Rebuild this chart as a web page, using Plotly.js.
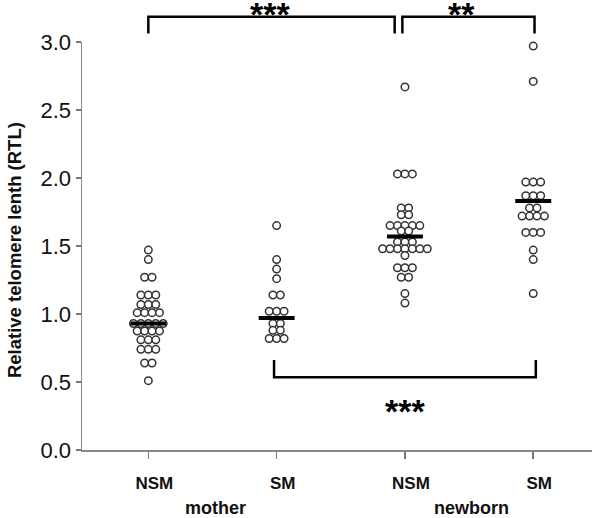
<!DOCTYPE html>
<html>
<head>
<meta charset="utf-8">
<script src="https://cdn.plot.ly/plotly-3.0.1.min.js"></script>
<style>html,body{margin:0;padding:0;background:#fff;}#chart{width:600px;height:518px;}</style>
</head>
<body>
<div id="chart"></div>
<script>
// ---- data ----
var categories = ["NSM", "SM", "NSM", "SM"];
var groupLabels = ["mother", "newborn"];
var motherNSM = [1.47, 1.40, 1.27, 1.27, 1.14, 1.14, 1.14, 1.07, 1.07, 1.07,
                 1.01, 1.01, 1.01, 1.01, 0.93, 0.93, 0.93, 0.93, 0.93,
                 0.875, 0.875, 0.875, 0.875, 0.81, 0.81, 0.81, 0.74, 0.74, 0.74,
                 0.64, 0.64, 0.51];
var motherSM = [1.65, 1.40, 1.33, 1.26, 1.14, 1.14, 1.02, 1.02, 1.02,
                0.93, 0.93, 0.88, 0.88, 0.82, 0.82, 0.82];
var newbornNSM = [2.67, 2.03, 2.03, 2.03, 1.78, 1.78, 1.73, 1.73,
                  1.65, 1.65, 1.65, 1.65, 1.65, 1.61, 1.61, 1.53, 1.53, 1.53,
                  1.48, 1.48, 1.48, 1.48, 1.48, 1.48, 1.48, 1.43,
                  1.34, 1.34, 1.34, 1.27, 1.27, 1.15, 1.08];
var newbornSM = [2.97, 2.71, 1.97, 1.97, 1.97, 1.87, 1.87, 1.87, 1.78, 1.78,
                 1.72, 1.72, 1.72, 1.72, 1.60, 1.60, 1.60, 1.47, 1.40, 1.15];
var means = [0.93, 0.97, 1.57, 1.83];
var yTicks = [0.0, 0.5, 1.0, 1.5, 2.0, 2.5, 3.0];
var yTickText = ["0.0", "0.5", "1.0", "1.5", "2.0", "2.5", "3.0"];
var sigLabels = ["***", "**", "***"];

var groups = [motherNSM, motherSM, newbornNSM, newbornSM];
var dx = 0.058; // horizontal spacing of dots in a row (category units)

function swarm(vals, center) {
  var counts = {}, seen = {};
  vals.forEach(function (v) { counts[v] = (counts[v] || 0) + 1; });
  var xs = [];
  vals.forEach(function (v) {
    var i = seen[v] || 0; seen[v] = i + 1;
    xs.push(center + (i - (counts[v] - 1) / 2) * dx);
  });
  return xs;
}

var traces = [];
groups.forEach(function (g, k) {
  traces.push({
    type: "scatter", mode: "markers",
    x: swarm(g, k + 1), y: g,
    marker: {symbol: "circle", size: 7.5, color: "#ffffff",
             line: {color: "#333333", width: 1.5}},
    hoverinfo: "y", showlegend: false, cliponaxis: false
  });
});
means.forEach(function (m, k) {
  traces.push({
    type: "scatter", mode: "lines",
    x: [k + 1 - 0.14, k + 1 + 0.14], y: [m, m],
    line: {color: "#000", width: 4}, showlegend: false, hoverinfo: "skip"
  });
});

var black = {color: "#000", width: 2.5};
var shapes = [
  {type: "path", xref: "x", yref: "paper",
   path: "M 1,1.021 L 1,1.062 L 2.92,1.062 L 2.92,1.021", line: black},
  {type: "path", xref: "x", yref: "paper",
   path: "M 2.98,1.021 L 2.98,1.062 L 4.01,1.062 L 4.01,1.021", line: black},
  {type: "path", xref: "x", yref: "y",
   path: "M 1.98,0.662 L 1.98,0.535 L 4.02,0.535 L 4.02,0.662", line: black}
];

var font = "Liberation Sans, Arial, sans-serif";
var PH = 408; // plot height in px, used to express pixel offsets in paper units
var annotations = [
  {text: "<b>" + sigLabels[0] + "</b>", x: 1.95, y: 1 + (42 - 14) / PH, xref: "x", yref: "paper",
   showarrow: false, xanchor: "center", yanchor: "middle",
   font: {family: font, size: 34, color: "#000"}},
  {text: "<b>" + sigLabels[1] + "</b>", x: 3.44, y: 1 + (42 - 14) / PH, xref: "x", yref: "paper",
   showarrow: false, xanchor: "center", yanchor: "middle",
   font: {family: font, size: 34, color: "#000"}},
  {text: "<b>" + sigLabels[2] + "</b>", x: 3.0, y: 0.29, xref: "x", yref: "y",
   showarrow: false, xanchor: "center", yanchor: "middle",
   font: {family: font, size: 34, color: "#000"}},
  {text: "<b>" + groupLabels[0] + "</b>", x: 1.52, y: -58 / PH, xref: "x", yref: "paper",
   showarrow: false, xanchor: "center", yanchor: "middle",
   font: {family: font, size: 18, color: "#111"}},
  {text: "<b>" + groupLabels[1] + "</b>", x: 3.52, y: -58 / PH, xref: "x", yref: "paper",
   showarrow: false, xanchor: "center", yanchor: "middle",
   font: {family: font, size: 18, color: "#111"}},
  {text: "<b>Relative telomere lenth (RTL)</b>", xref: "paper", yref: "paper",
   x: (14 - 82) / 510, y: 0.49, textangle: -90, showarrow: false,
   xanchor: "center", yanchor: "middle",
   font: {family: font, size: 18.5, color: "#111"}}
];

var layout = {
  width: 600, height: 518,
  margin: {l: 82, r: 8, t: 42, b: 68},
  paper_bgcolor: "#fff", plot_bgcolor: "#fff",
  font: {family: font, color: "#111"},
  showlegend: false,
  xaxis: {
    range: [0.483, 4.458], tickmode: "array", tickvals: [1, 2, 3, 4],
    ticktext: categories.map(function (c) { return "<b>" + c + "</b>"; }),
    ticks: "outside", ticklen: 7, tickwidth: 1.5, tickcolor: "#777",
    showline: true, linecolor: "#888", linewidth: 1.5, showgrid: false, zeroline: false,
    tickfont: {family: font, size: 17, color: "#111"}, ticklabelstandoff: 10,
    ticklabelshift: 6,
    fixedrange: true
  },
  yaxis: {
    range: [0, 3.0], tickmode: "array", tickvals: yTicks, ticktext: yTickText,
    ticks: "outside", ticklen: 5, tickwidth: 1.5, tickcolor: "#777",
    showline: true, linecolor: "#888", linewidth: 1.5, showgrid: false, zeroline: false,
    tickfont: {family: font, size: 22, color: "#111"}, ticklabelstandoff: 0,
    fixedrange: true
  },
  shapes: shapes,
  annotations: annotations
};

Plotly.newPlot("chart", traces, layout, {displayModeBar: false, staticPlot: true});
</script>
</body>
</html>
